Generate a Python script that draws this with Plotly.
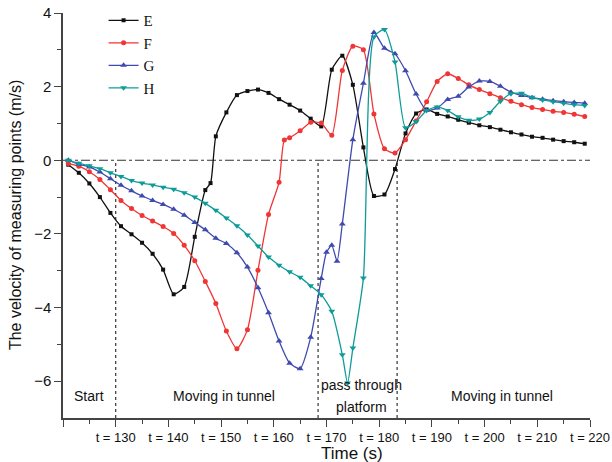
import plotly.graph_objects as go

# ---- data ----
t_E = [121,123,125,127,129,131,133,135,137,139,141,143,145,147,148,149,151,153,155,157,159,161,163,165,167,169,
       171,173,175,177,179,181,183,185,187,189,191,193,195,197,199,201,203,205,207,209,211,213,215,217,219]
v_E = [-0.12,-0.34,-0.63,-1.00,-1.43,-1.79,-2.01,-2.24,-2.54,-2.97,-3.64,-3.44,-2.08,-0.81,-0.62,0.65,1.30,1.77,1.88,1.92,1.83,1.66,1.51,1.35,1.13,0.92,
       2.46,2.84,2.05,0.35,-0.97,-0.93,-0.24,0.73,1.27,1.38,1.26,1.19,1.10,1.02,0.95,0.90,0.83,0.76,0.70,0.64,0.61,0.56,0.52,0.49,0.45]

t_F = [121,123,125,127,129,131,133,135,137,139,141,143,145,147,149,151,153,155,157,159,161,162,163,165,167,169,
       171,173,175,177,179,181,183,185,187,189,191,193,195,197,199,201,203,205,207,209,211,213,215,217,219]
v_F = [-0.09,-0.16,-0.31,-0.52,-0.80,-1.09,-1.31,-1.50,-1.65,-1.80,-1.99,-2.31,-2.73,-3.29,-3.89,-4.64,-5.12,-4.60,-2.99,-1.47,-0.60,0.55,0.61,0.80,1.03,1.01,
       0.68,2.44,3.10,3.00,1.26,0.31,0.20,0.56,1.07,1.59,2.14,2.35,2.22,2.05,1.92,1.81,1.70,1.60,1.51,1.43,1.38,1.33,1.30,1.25,1.19]

t_G = [121,123,125,127,129,131,133,135,137,139,141,143,145,147,149,151,153,155,157,159,161,163,165,167,169,170,
       171,172,173,175,177,179,181,183,185,187,189,191,193,195,197,199,201,203,205,207,209,211,213,215,217,219]
v_G = [0.0,-0.11,-0.18,-0.32,-0.50,-0.68,-0.83,-0.97,-1.09,-1.20,-1.33,-1.49,-1.69,-1.89,-2.12,-2.26,-2.51,-2.90,-3.46,-4.14,-4.91,-5.51,-5.66,-4.81,-3.21,-2.50,
       -2.31,-2.74,-1.73,0.56,2.09,3.47,3.04,2.89,2.43,1.80,1.35,1.42,1.65,1.74,1.99,2.15,2.14,2.01,1.85,1.76,1.70,1.66,1.62,1.59,1.57,1.55]

t_H = [121,123,125,127,129,131,133,135,137,139,141,143,145,147,149,151,153,155,157,159,161,163,165,167,169,
       171,173,174,175,177,179,181,183,185,187,189,191,193,195,197,199,201,203,205,207,209,211,213,215,217,219]
v_H = [0.0,-0.08,-0.15,-0.23,-0.34,-0.44,-0.55,-0.62,-0.67,-0.73,-0.79,-0.88,-1.00,-1.17,-1.36,-1.57,-1.78,-2.03,-2.33,-2.63,-2.85,-3.03,-3.18,-3.41,-3.65,
       -4.10,-5.28,-6.05,-5.10,-3.20,3.35,3.55,2.67,0.88,1.05,1.35,1.45,1.35,1.18,1.09,1.12,1.30,1.60,1.81,1.82,1.71,1.64,1.59,1.55,1.51,1.49]

x_major = [120,130,140,150,160,170,180,190,200,210,220]
x_labels = ["" if v == 120 else f"t = {v}" for v in x_major]
x_minor = [125,135,145,155,165,175,185,195,205,215]
y_major = [-6,-4,-2,0,2,4]
y_minor = [-5,-3,-1,1,3]

phase_bounds = [130, 168.4, 183.4]
phase_labels = [("Start", 124.9, -6.39), ("Moving in tunnel", 150.5, -6.39),
                ("pass through", 176.7, -6.11), ("platform", 176.7, -6.71),
                ("Moving in tunnel", 203.3, -6.39)]

X_RANGE = [120, 220]
Y_RANGE = [-7, 4]

series = [
    ("E", t_E, v_E, "#111111", "square", 4),
    ("F", t_F, v_F, "#f03535", "circle", 5),
    ("G", t_G, v_G, "#3f4aae", "triangle-up", 6),
    ("H", t_H, v_H, "#0e9c98", "triangle-down", 6),
]

fig = go.Figure()
for name, t, v, col, sym, ms in series:
    fig.add_trace(go.Scatter(
        x=t, y=v, name=name, mode="lines+markers",
        line=dict(color=col, width=1.3, shape="spline", smoothing=0.6),
        marker=dict(color=col, symbol=sym, size=ms, line=dict(width=0)),
    ))

axis_col = "#444444"
fig.add_shape(type="line", x0=X_RANGE[0], x1=X_RANGE[1], y0=0, y1=0, xref="x", yref="y",
              line=dict(color="#333333", width=1.2, dash="dashdot"), layer="below")
for b in phase_bounds:
    fig.add_shape(type="line", x0=b, x1=b, y0=Y_RANGE[0], y1=0, xref="x", yref="y",
                  line=dict(color="#333333", width=1.2, dash="dot"), layer="below")

for txt, x, y in phase_labels:
    fig.add_annotation(x=x, y=y, xref="x", yref="y", text=txt, showarrow=False,
                       font=dict(family="Liberation Sans, Arial", size=14, color="#111111"))

fig.add_annotation(x=174.8, xref="x", y=-0.088, yref="paper", text="Time (s)", showarrow=False,
                   yanchor="middle", font=dict(family="Liberation Sans, Arial", size=17, color="#111111"))
fig.add_annotation(x=-0.09, xref="paper", y=0.5, yref="paper", text="The velocity of measuring points (m/s)",
                   textangle=-90, showarrow=False, xanchor="center", yanchor="middle",
                   font=dict(family="Liberation Sans, Arial", size=16, color="#111111"))

fig.update_xaxes(range=X_RANGE, showgrid=False, zeroline=False, showline=True, linecolor=axis_col, linewidth=1.5,
                 automargin=False,
                 tickmode="array", tickvals=x_major, ticktext=x_labels, ticks="outside", ticklen=7,
                 tickcolor=axis_col, tickwidth=1.3,
                 minor=dict(tickmode="array", tickvals=x_minor, ticks="outside", ticklen=4, tickcolor=axis_col, tickwidth=1.3),
                 tickfont=dict(family="Liberation Sans, Arial", size=13, color="#111111"))
fig.update_yaxes(range=Y_RANGE, showgrid=False, zeroline=False, showline=True, linecolor=axis_col, linewidth=1.5,
                 automargin=False,
                 tickmode="array", tickvals=y_major, ticks="outside", ticklen=7,
                 tickcolor=axis_col, tickwidth=1.3,
                 minor=dict(tickmode="array", tickvals=y_minor, ticks="outside", ticklen=4, tickcolor=axis_col, tickwidth=1.3),
                 tickfont=dict(family="Liberation Sans, Arial", size=15, color="#111111"))

fig.update_layout(
    width=612, height=462,
    margin=dict(l=63, r=22, t=13, b=44, autoexpand=False),
    paper_bgcolor="white", plot_bgcolor="white",
    showlegend=True,
    legend=dict(x=0.077, y=1.022, xanchor="left", yanchor="top", bgcolor="rgba(0,0,0,0)",
                font=dict(family="Liberation Serif, Times New Roman", size=15, color="#111111"),
                tracegroupgap=0, itemwidth=30),
)

fig.write_html("out.html")
